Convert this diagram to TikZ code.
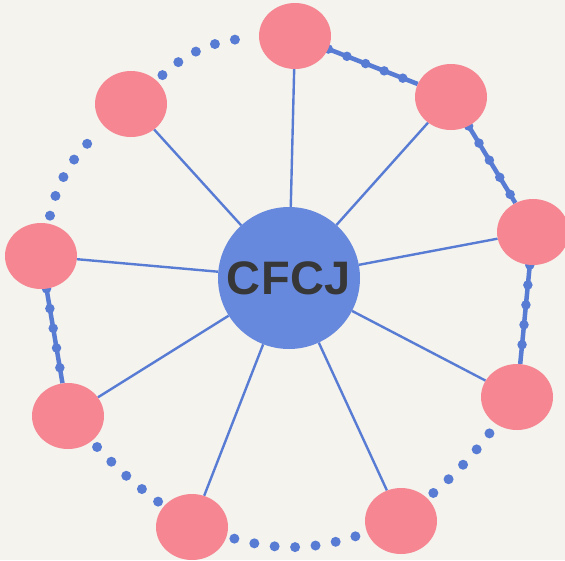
\documentclass[tikz,border=0pt]{standalone}
\usepackage{fontspec}
\setmainfont{Liberation Sans}
\newfontfamily\hubfont[LetterSpace=1]{Liberation Sans}
\usetikzlibrary{shapes.geometric}
\pgfdeclarelayer{back}
\pgfdeclarelayer{bg}
\pgfsetlayers{back,bg,main}
\definecolor{pinkn}{RGB}{245,134,146}
\definecolor{bluec}{RGB}{103,137,221}
\definecolor{bluel}{RGB}{88,124,212}
\definecolor{paper}{RGB}{244,243,238}
\definecolor{txt}{RGB}{55,55,55}
\begin{document}
\begin{tikzpicture}[x=1pt,y=-1pt,
  outer/.style={ellipse, fill=pinkn, minimum width=72pt, minimum height=66pt, inner sep=0pt},
  hub/.style={circle, fill=bluec, minimum size=142pt, inner sep=0pt,
    font=\hubfont\bfseries\fontsize{47}{47}\selectfont, text=txt},
  spoke/.style={draw=bluel, line width=2.4pt},
  dots/.style={draw=bluel, line width=10pt, line cap=round,
    dash pattern=on 0pt off 20.5pt, shorten <=8pt, shorten >=6pt},
  railline/.style={draw=bluel, line width=4.5pt},
  raildots/.style={draw=bluel, line width=9.5pt, line cap=round,
    dash pattern=on 0pt off 20pt},
]
\begin{pgfonlayer}{back}
  \fill[paper] (0,0) rectangle (565,560);
\end{pgfonlayer}
\useasboundingbox (0,0) rectangle (565,560);

\node[hub] (c) at (289,278) {CFCJ};
\node[outer] (n1) at (295,36) {};
\node[outer] (n2) at (451,97) {};
\node[outer] (n3) at (533,232) {};
\node[outer] (n4) at (517,397) {};
\node[outer] (n5) at (401,521) {};
\node[outer] (n6) at (192,527) {};
\node[outer] (n7) at (68,416) {};
\node[outer] (n8) at (41,256) {};
\node[outer] (n9) at (131,104) {};

\begin{pgfonlayer}{bg}
  \foreach \n in {n1,n2,n3,n4,n5,n6,n7,n8,n9}
    \draw[spoke] (c) -- (\n);
  % solid rails with dots
  \draw[railline, postaction={raildots}] (n1) -- (n2);
  \draw[railline, postaction={raildots}] (n2) -- (n3);
  \draw[railline, postaction={raildots}] (n3) -- (n4);
  \draw[railline, postaction={raildots}] (n8) -- (n7);
  % dotted arcs
  \draw[dots] (n9) to[bend left=20] (n1);
  \draw[dots] (n8) to[bend left=18] (n9);
  \draw[dots] (n7) to[bend right=5] (n6);
  \draw[dots] (n6) to[bend right=17] (n5);
  \draw[dots] (n5) to[bend right=6] (n4);
\end{pgfonlayer}
\end{tikzpicture}
\end{document}
